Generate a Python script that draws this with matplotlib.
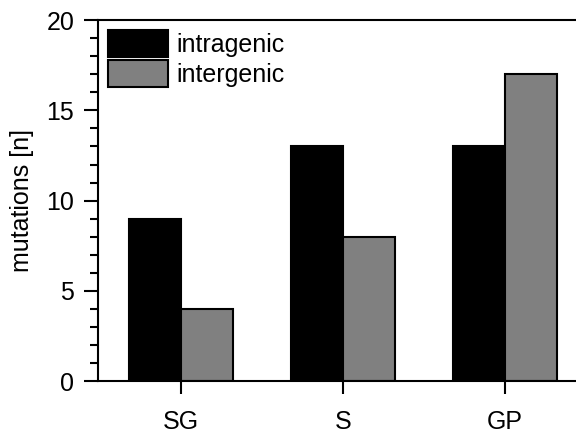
import matplotlib
matplotlib.use("Agg")
import matplotlib.pyplot as plt
import numpy as np
from matplotlib.ticker import MultipleLocator

plt.rcParams['font.family'] = ['Liberation Sans', 'DejaVu Sans']

groups = ['SG', 'S', 'GP']
intragenic = [9, 13, 13]
intergenic = [4, 8, 17]

fig = plt.figure(figsize=(5.76, 4.38), dpi=100)
ax = fig.add_axes([0.170, 0.130, 0.851, 0.824])

x = np.arange(len(groups))
w = 0.32
ax.bar(x - w / 2, intragenic, w, color='black', edgecolor='black', linewidth=1.5, label='intragenic')
ax.bar(x + w / 2, intergenic, w, color='#808080', edgecolor='black', linewidth=1.5, label='intergenic')

ax.set_xlim(-0.512, 2.512)
ax.set_ylim(0, 20)
ax.set_xticks(x)
ax.set_xticklabels(groups, fontsize=18)
ax.yaxis.set_major_locator(MultipleLocator(5))
ax.yaxis.set_minor_locator(MultipleLocator(1))
ax.tick_params(axis='y', which='major', direction='out', length=10, width=1.5, labelsize=18, pad=7)
ax.tick_params(axis='y', which='minor', direction='out', length=6, width=1.5)
ax.tick_params(axis='x', which='major', direction='out', length=9, width=1.5, pad=12)
ax.set_ylabel('mutations [n]', fontsize=18, labelpad=9)

for s in ax.spines.values():
    s.set_linewidth(1.5)

ax.legend(loc='upper left', frameon=False, fontsize=18, handlelength=2.4,
          handleheight=1.3, handletextpad=0.32, labelspacing=0.1,
          borderaxespad=0.2, borderpad=0.2)

plt.savefig("out.png")
